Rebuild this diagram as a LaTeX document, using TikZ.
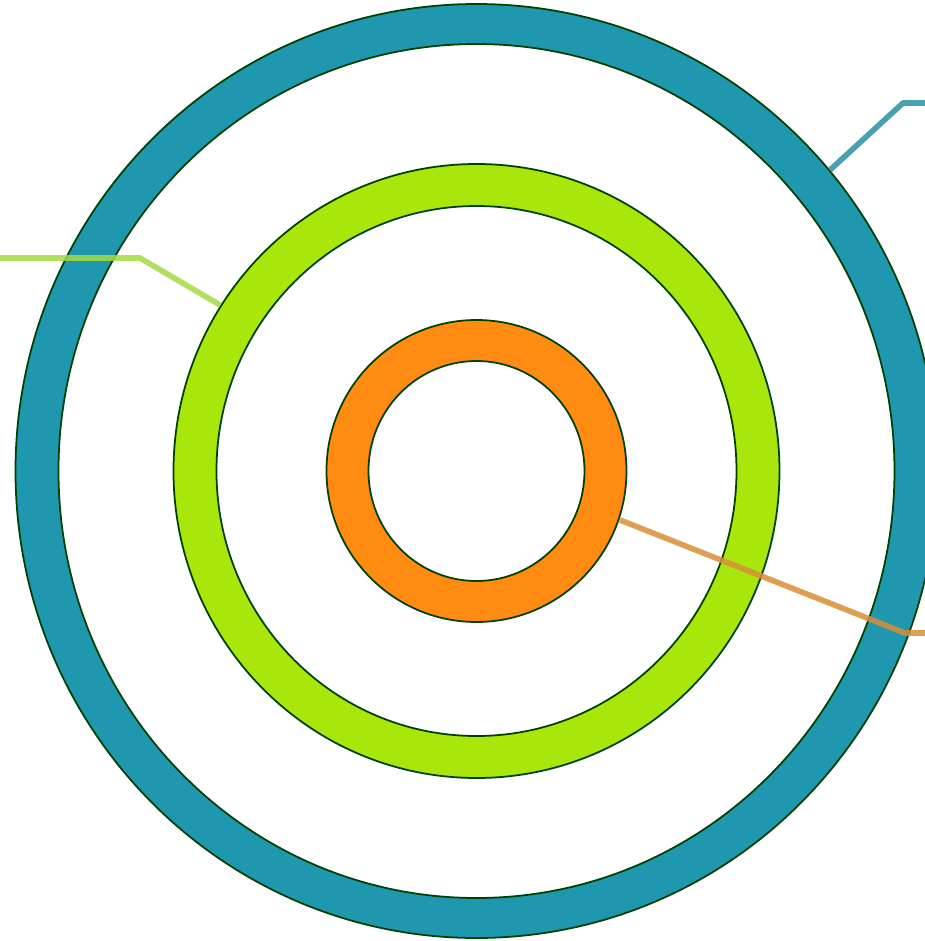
\documentclass[tikz,border=0pt]{standalone}
\usepackage{tikz}

\definecolor{ringblue}{HTML}{1E97AF}
\definecolor{ringgreen}{HTML}{A8E60C}
\definecolor{ringorange}{HTML}{FF8B12}
\definecolor{leadblue}{HTML}{2A90A3}
\definecolor{leadgreen}{HTML}{A4DA42}
\definecolor{leadorange}{HTML}{D98F38}

\begin{document}
\begin{tikzpicture}[
x=0.02cm,
y=0.02cm,
ring/.style={draw=black!75!green, line width=1pt, even odd rule},
leader/.style={line width=3.2pt, opacity=0.85, line join=round}
]

\useasboundingbox[fill=white] (-476.5,-470) rectangle (448.5,471);

\coordinate (center) at (0,0);

%%%%%%%%%%%%%%%%%%%%%%%%%%%%%%%%%%%%%%%%%%%%%%%%%%%%%%%%%%%%
% Outer Ring
%%%%%%%%%%%%%%%%%%%%%%%%%%%%%%%%%%%%%%%%%%%%%%%%%%%%%%%%%%%%

\path[
ring,
fill=ringblue
]
(center) ellipse [x radius=461, y radius=467]
(center) ellipse [x radius=418, y radius=427];

%%%%%%%%%%%%%%%%%%%%%%%%%%%%%%%%%%%%%%%%%%%%%%%%%%%%%%%%%%%%
% Middle Ring
%%%%%%%%%%%%%%%%%%%%%%%%%%%%%%%%%%%%%%%%%%%%%%%%%%%%%%%%%%%%

\path[
ring,
fill=ringgreen
]
(center) ellipse [x radius=303, y radius=307]
(center) ellipse [x radius=260, y radius=265];

%%%%%%%%%%%%%%%%%%%%%%%%%%%%%%%%%%%%%%%%%%%%%%%%%%%%%%%%%%%%
% Inner Ring
%%%%%%%%%%%%%%%%%%%%%%%%%%%%%%%%%%%%%%%%%%%%%%%%%%%%%%%%%%%%

\path[
ring,
fill=ringorange
]
(center) ellipse [x radius=150, y radius=151]
(center) ellipse [x radius=108, y radius=110];

%%%%%%%%%%%%%%%%%%%%%%%%%%%%%%%%%%%%%%%%%%%%%%%%%%%%%%%%%%%%
% Leader Lines
%%%%%%%%%%%%%%%%%%%%%%%%%%%%%%%%%%%%%%%%%%%%%%%%%%%%%%%%%%%%

\coordinate (outer-tip) at (353.5,301);
\coordinate (outer-bend) at (426.5,368);
\coordinate (outer-end) at (448.5,368);

\coordinate (middle-tip) at (-256.5,166);
\coordinate (middle-bend) at (-336.5,213);
\coordinate (middle-end) at (-476.5,213);

\coordinate (inner-tip) at (143.5,-49);
\coordinate (inner-bend) at (428.5,-162);
\coordinate (inner-end) at (448.5,-162);

\draw[leader, leadblue] (outer-tip) -- (outer-bend) -- (outer-end);
\draw[leader, leadgreen] (middle-end) -- (middle-bend) -- (middle-tip);
\draw[leader, leadorange] (inner-tip) -- (inner-bend) -- (inner-end);

\end{tikzpicture}
\end{document}
